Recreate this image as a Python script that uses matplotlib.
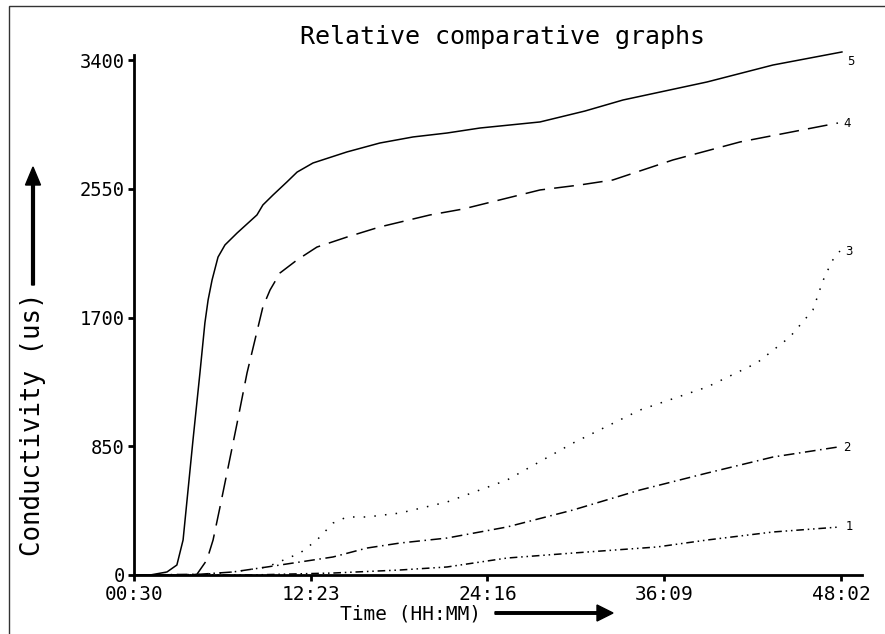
import matplotlib
matplotlib.use("Agg")
import matplotlib.pyplot as plt
from matplotlib.patches import Rectangle, FancyArrow

# time axis in minutes since 00:00
x_ticks = [30, 743, 1456, 2169, 2882]
x_tick_labels = ["00:30", "12:23", "24:16", "36:09", "48:02"]
y_ticks = [0, 850, 1700, 2550, 3400]

# series 5 (solid)
t5 = [30, 95, 163, 203, 228, 248, 268, 296, 316, 329, 345, 369, 397, 446, 526, 550, 591, 647, 688,
      752, 889, 1022, 1156, 1293, 1426, 1668, 1849, 2003, 2342, 2608, 2886]
c5 = [0, 0, 20, 66, 231, 561, 891, 1334, 1664, 1816, 1948, 2099, 2179, 2258, 2377, 2443, 2509, 2595, 2660,
      2720, 2793, 2852, 2892, 2918, 2951, 2991, 3063, 3136, 3255, 3367, 3453]

# series 4 (dashed)
t4 = [30, 256, 284, 324, 349, 377, 405, 446, 486, 518, 550, 579, 619, 688, 768, 889, 1022, 1224, 1357,
      1668, 1829, 1962, 2204, 2475, 2870]
c4 = [0, 0, 5, 99, 231, 449, 673, 1003, 1334, 1552, 1770, 1882, 1994, 2080, 2165, 2231, 2298, 2377, 2416,
      2542, 2575, 2608, 2740, 2859, 2984]

# series 3 (dotted)
t3 = [30, 296, 429, 567, 700, 768, 833, 889, 970, 1103, 1293, 1535, 1801, 2071, 2342, 2543, 2676, 2769, 2809, 2846, 2878]
c3 = [0, 3, 20, 53, 145, 231, 343, 383, 383, 409, 482, 627, 871, 1089, 1241, 1400, 1571, 1750, 1941, 2073, 2139]

# series 2 (dash-dot)
t2 = [30, 296, 429, 567, 700, 833, 970, 1103, 1293, 1535, 1801, 2071, 2342, 2608, 2870]
c2 = [0, 5, 20, 53, 86, 119, 178, 211, 244, 317, 429, 561, 673, 779, 845]

# series 1 (dash-dot-dot)
t1 = [30, 498, 833, 1103, 1293, 1535, 1801, 2140, 2342, 2608, 2878]
c1 = [0, 0, 13, 33, 53, 112, 145, 185, 231, 284, 317]

series_names = ["1", "2", "3", "4", "5"]

mono = "DejaVu Sans Mono"
W, H = 885, 634
fig = plt.figure(figsize=(W / 100, H / 100), dpi=100)

# axes rectangle in pixels: left spine 134, right end 862, zero at 575
y_top = 3480
px_per_unit = 515 / 3400
ax_top = 575 - y_top * px_per_unit
ax = fig.add_axes([134 / W, 1 - 575 / H, (862 - 134) / W, (575 - ax_top) / H])

lw = 1.1
ax.plot(t5, c5, color="black", lw=lw, linestyle="-")
ax.plot(t4, c4, color="black", lw=lw, linestyle=(0, (13, 6)))
ax.plot(t3, c3, color="black", lw=lw, linestyle=(0, (1, 6)))
ax.plot(t2, c2, color="black", lw=lw, linestyle=(0, (7, 3, 1, 3)))
ax.plot(t1, c1, color="black", lw=lw, linestyle=(0, (5, 2.5, 1, 2.5, 1, 2.5)))

# curve numbers at the right end of each line
ends = [(t1, c1), (t2, c2), (t3, c3), (t4, c4), (t5, c5)]
for name, (t, c) in zip(series_names, ends):
    dy = -7 if name == "5" else 0
    ax.annotate(name, (t[-1], c[-1]), xytext=(4, dy), textcoords="offset points",
                ha="left", va="center", fontsize=8.5, family="DejaVu Sans")

ax.set_xlim(30, 2967)
ax.set_ylim(0, y_top)
ax.set_xticks(x_ticks)
ax.set_xticklabels(x_tick_labels, family=mono, fontsize=14)
ax.set_yticks(y_ticks)
ax.set_yticklabels([str(v) for v in y_ticks], family=mono, fontsize=13.5)
ax.tick_params(direction="out", length=4.5, width=2, pad=2)
ax.tick_params(axis="x", pad=3)

for side in ["top", "right"]:
    ax.spines[side].set_visible(False)
for side in ["left", "bottom"]:
    ax.spines[side].set_linewidth(2)
ax.spines["left"].set_bounds(0, 3430)

# title and axis labels
fig.text(502 / W, 1 - 37 / H, "Relative comparative graphs", family=mono,
         fontsize=18, ha="center", va="center")
fig.text(33 / W, 1 - 424 / H, "Conductivity (us)", family=mono, fontsize=18.5,
         rotation=90, ha="center", va="center")
fig.text(411 / W, 1 - 614 / H, "Time (HH:MM)", family=mono, fontsize=14,
         ha="center", va="center")

# arrows next to the axis labels
fig.add_artist(FancyArrow(33 / W, 1 - 285 / H, 0, (285 - 167) / H, width=2 / H,
                          head_width=15 / W, head_length=18 / H, length_includes_head=True,
                          color="black", transform=fig.transFigure))
fig.add_artist(FancyArrow(495 / W, 1 - 613 / H, (613 - 495) / W, 0, width=2.5 / H,
                          head_width=16 / H, head_length=16 / W, length_includes_head=True,
                          color="black", transform=fig.transFigure))

# frame around the figure (left and top edges visible)
fig.add_artist(Rectangle((9 / W, -0.1), 1.2, 1.1 - 6 / H, fill=False, lw=1,
                         edgecolor="#333333", transform=fig.transFigure))

fig.savefig("out.png", dpi=100)
